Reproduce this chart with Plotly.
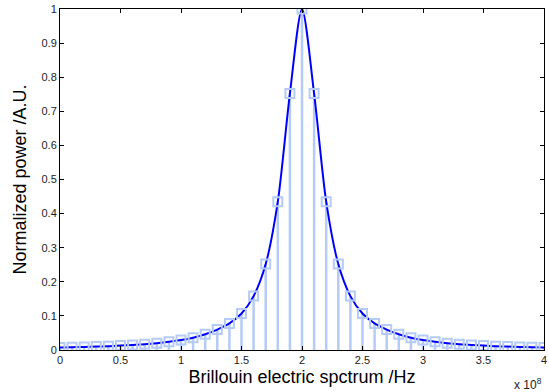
import plotly.graph_objects as go

freq_e8 = [0.0, 0.1, 0.2, 0.3, 0.4, 0.5, 0.6, 0.7, 0.8, 0.9,
           1.0, 1.1, 1.2, 1.3, 1.4, 1.5, 1.6, 1.7, 1.8, 1.9,
           2.0, 2.1, 2.2, 2.3, 2.4, 2.5, 2.6, 2.7, 2.8, 2.9,
           3.0, 3.1, 3.2, 3.3, 3.4, 3.5, 3.6, 3.7, 3.8, 3.9, 4.0]
power = [0.0075, 0.008, 0.009, 0.010, 0.011, 0.013, 0.015, 0.017, 0.020, 0.024,
         0.029, 0.036, 0.046, 0.060, 0.078, 0.107, 0.158, 0.252, 0.435, 0.752,
         1.0, 0.752, 0.435, 0.252, 0.158, 0.107, 0.078, 0.060, 0.046, 0.036,
         0.029, 0.024, 0.020, 0.017, 0.015, 0.013, 0.011, 0.010, 0.009, 0.008, 0.0075]
x_ticks = [0, 0.5, 1, 1.5, 2, 2.5, 3, 3.5, 4]
y_ticks = [0, 0.1, 0.2, 0.3, 0.4, 0.5, 0.6, 0.7, 0.8, 0.9, 1]

freq = [f * 1e8 for f in freq_e8]

stem_color = "#b4cbf7"
line_color = "#0000ff"

fig = go.Figure()

# stems
sx, sy = [], []
for f, p in zip(freq, power):
    sx += [f, f, None]
    sy += [0, p, None]
fig.add_trace(go.Scatter(x=sx, y=sy, mode="lines",
                         line=dict(color=stem_color, width=2.5),
                         hoverinfo="skip", showlegend=False))

# smooth curve
fig.add_trace(go.Scatter(x=freq, y=power, mode="lines",
                         line=dict(color=line_color, width=2, shape="spline", smoothing=0.8),
                         showlegend=False))

# square markers
fig.add_trace(go.Scatter(x=freq, y=power, mode="markers",
                         marker=dict(symbol="square-open", size=9,
                                     color=stem_color, line=dict(width=2, color=stem_color)),
                         showlegend=False))

axis_common = dict(showline=True, linecolor="black", linewidth=1, mirror="ticks",
                   ticks="inside", ticklen=4, tickcolor="black", showgrid=False,
                   zeroline=False, ticklabeloverflow="allow",
                   tickfont=dict(family="Liberation Sans, Arial", size=11, color="#222"))

fig.update_layout(
    width=549, height=392,
    margin=dict(l=60, r=2, t=9, b=42),
    paper_bgcolor="white", plot_bgcolor="white",
    font=dict(family="Liberation Sans, Arial", color="black"),
    xaxis=dict(range=[0, 4e8], tickvals=[t * 1e8 for t in x_ticks],
               ticktext=[f"{t:g}" for t in x_ticks],
               title=dict(text="Brillouin electric spctrum /Hz", font=dict(size=18), standoff=5),
               **axis_common),
    yaxis=dict(range=[0, 1], tickvals=y_ticks, ticktext=[f"{t:g}" for t in y_ticks],
               title=dict(text="Normalized power /A.U.", font=dict(size=18), standoff=10),
               **axis_common),
    annotations=[dict(text="x 10<sup>8</sup>", xref="paper", yref="paper",
                      x=1.0, y=-0.07, xanchor="right", yanchor="top", showarrow=False,
                      font=dict(size=12, color="#222"))],
)

fig.write_html("out.html")
